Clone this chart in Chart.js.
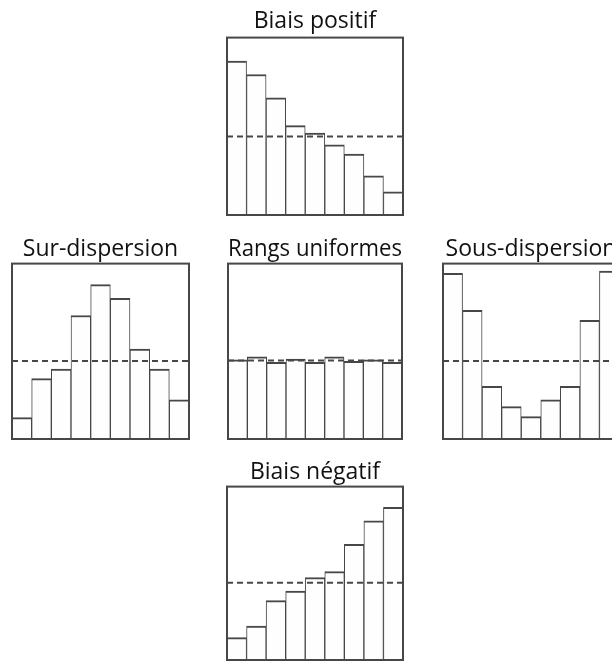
<!DOCTYPE html>
<html>
<head>
<meta charset="utf-8">
<script src="https://cdn.jsdelivr.net/npm/chart.js@4/dist/chart.umd.min.js"></script>
<style>
  html, body { margin: 0; padding: 0; background: #fff; overflow: hidden; }
  body { width: 612px; height: 661px; position: relative; }
  canvas { position: absolute; }
</style>
</head>
<body>
<canvas id="biaisPos"></canvas>
<canvas id="surDisp"></canvas>
<canvas id="uniforme"></canvas>
<canvas id="sousDisp"></canvas>
<canvas id="biaisNeg"></canvas>
<script>
// rank bins (9 classes) and relative heights (0-100 = panel height)
const rangs = ['1', '2', '3', '4', '5', '6', '7', '8', '9'];
const biaisPositif = [86.8, 79.2, 66.0, 50.4, 46.2, 39.6, 34.3, 22.1, 13.0];
const surDispersion = [12.2, 34.4, 39.9, 70.4, 88.0, 80.2, 51.3, 39.9, 22.3];
const rangsUniformes = [45.2, 46.8, 43.7, 45.6, 43.7, 46.8, 44.3, 45.2, 43.7];
const sousDispersion = [94.5, 73.3, 30.0, 18.5, 12.8, 22.3, 30.0, 67.7, 95.8];
const biaisNegatif = [12.9, 19.6, 34.2, 39.8, 47.5, 51.0, 66.7, 80.2, 88.1];
// level of the dashed "expected" line
const niveauAttendu = [44.2, 44.5, 44.7, 44.5, 44.6];

const INK = '#474747';
const FONT = 23;

// frame around the plot + dashed expected level
const framePlugin = {
  id: 'frameMean',
  afterDatasetsDraw(chart, args, opts) {
    const { ctx, chartArea: a, scales: { y } } = chart;
    const yy = y.getPixelForValue(opts.mean);
    ctx.save();
    ctx.strokeStyle = INK;
    ctx.lineWidth = 2;
    ctx.setLineDash([6, 4]);
    ctx.beginPath();
    ctx.moveTo(a.left, yy);
    ctx.lineTo(a.right, yy);
    ctx.stroke();
    ctx.setLineDash([]);
    ctx.strokeRect(a.left, a.top, a.width, a.height);
    ctx.restore();
  }
};

// left/top: chart area position, w/h: chart area size, pb: gap under title
function panel(id, title, values, mean, left, top, w, h, pb) {
  const pt = 4;
  const titleBox = FONT * 1.2 + pt + pb;
  const canvas = document.getElementById(id);
  canvas.width = w + 4;
  canvas.height = Math.round(titleBox + h + 2);
  canvas.style.left = (left - 2) + 'px';
  canvas.style.top = (top - titleBox) + 'px';

  return new Chart(canvas, {
    type: 'bar',
    data: {
      labels: rangs,
      datasets: [{
        data: values,
        backgroundColor: '#fefefe',
        borderColor: INK,
        borderWidth: { top: 2, left: 1, right: 1, bottom: 0 },
        categoryPercentage: 1,
        barPercentage: 1
      }]
    },
    options: {
      responsive: false,
      animation: false,
      layout: { padding: { left: 2, right: 2, top: 0, bottom: 2 } },
      scales: {
        x: { display: false },
        y: { display: false, min: 0, max: 100 }
      },
      plugins: {
        legend: { display: false },
        tooltip: { enabled: false },
        title: {
          display: true,
          text: title,
          color: '#111',
          font: { family: 'Open Sans', size: FONT, weight: 'normal' },
          padding: { top: pt, bottom: pb }
        },
        frameMean: { mean: mean }
      }
    },
    plugins: [framePlugin]
  });
}

panel('biaisPos', 'Biais positif', biaisPositif, niveauAttendu[0], 227, 38, 176, 177, 2);
panel('surDisp', 'Sur-dispersion', surDispersion, niveauAttendu[1], 12, 264, 177, 175, 0);
panel('uniforme', 'Rangs uniformes', rangsUniformes, niveauAttendu[2], 228, 264, 174, 175, 0);
panel('sousDisp', 'Sous-dispersion', sousDispersion, niveauAttendu[3], 443, 264, 176, 175, 0);
panel('biaisNeg', 'Biais négatif', biaisNegatif, niveauAttendu[4], 227, 487, 176, 173, 0);
</script>
</body>
</html>
